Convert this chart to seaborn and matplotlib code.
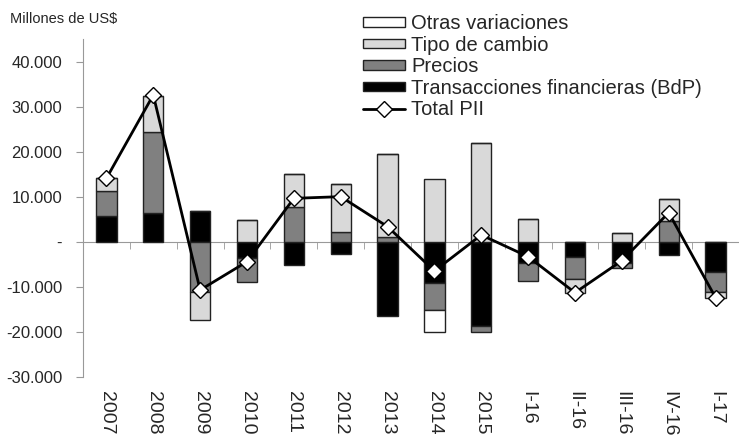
import numpy as np
import pandas as pd
import matplotlib
matplotlib.use('Agg')
import matplotlib.pyplot as plt
import seaborn as sns
from matplotlib.patches import Patch
from matplotlib.lines import Line2D
from matplotlib.ticker import FuncFormatter

periodos = ['2007', '2008', '2009', '2010', '2011', '2012', '2013', '2014', '2015',
            'I-16', 'II-16', 'III-16', 'IV-16', 'I-17']

transacciones = [5840, 6440, 6960, -3630, -5110, -2670, -16440, -9190, -18590,
                 -4740, -3410, -4740, -2960, -6590]
precios = [5560, 18060, -11000, -5260, 7850, 2300, 1000, -5920, -1480,
           -3930, -4810, -960, 4740, -4450]
tipo_cambio = [2900, 8000, -6300, 4810, 7190, 10590, 18480, 13930, 21930,
               5190, -3040, 1930, 4890, -1330]
otras = [0, 0, 0, 0, 0, 0, 0, -4960, 0, 0, 0, 0, 0, 0]
total_pii = [14150, 32670, -10670, -4370, 9700, 10080, 3410, -6440, 1560,
             -3260, -11260, -4150, 6520, -12370]

series = [
    ('Transacciones financieras (BdP)', transacciones, '#000000'),
    ('Precios', precios, '#808080'),
    ('Tipo de cambio', tipo_cambio, '#d9d9d9'),
    ('Otras variaciones', otras, '#ffffff'),
]

sns.set_style('white')
plt.rcParams['font.family'] = ['Liberation Sans', 'DejaVu Sans']

fig = plt.figure(figsize=(7.39, 4.36), dpi=100)
ax = fig.add_axes([83 / 739, 59 / 436, 656 / 739, 337.5 / 436])

x = np.arange(len(periodos))
pos_base = np.zeros(len(periodos))
neg_base = np.zeros(len(periodos))
for nombre, vals, color in series:
    v = np.array(vals, dtype=float)
    base = np.where(v >= 0, pos_base, neg_base)
    ax.bar(x, v, bottom=base, width=0.43, color=color, edgecolor='#222222',
           linewidth=1, zorder=2)
    pos_base += np.where(v > 0, v, 0)
    neg_base += np.where(v < 0, v, 0)

df = pd.DataFrame({'x': x, 'total': total_pii})
sns.lineplot(data=df, x='x', y='total', ax=ax, color='black', linewidth=2,
             marker='D', markersize=8, markerfacecolor='white',
             markeredgecolor='black', markeredgewidth=1, zorder=4)

ax.set_xlim(-0.5, len(periodos) - 0.5)
ax.set_ylim(-30000, 45000)
ax.set_yticks(np.arange(-30000, 40001, 10000))
ax.yaxis.set_major_formatter(FuncFormatter(
    lambda v, p: '-' if v == 0 else f'{v:,.0f}'.replace(',', '.')))
ax.tick_params(axis='y', labelsize=12, length=5, color='#999999', direction='out',
               left=True, pad=10)

ax.spines['top'].set_visible(False)
ax.spines['right'].set_visible(False)
ax.spines['left'].set_color('#999999')
ax.spines['bottom'].set_color('#999999')
ax.spines['bottom'].set_position(('data', 0))
ax.spines['bottom'].set_zorder(1)

ax.set_xticks(x)
ax.set_xticklabels(periodos, rotation=270, fontsize=14, ha='center', va='top')
ax.set_xticks(x[:-1] + 0.5, minor=True)
ax.tick_params(axis='x', which='major', length=0, pad=107, bottom=True)
ax.tick_params(axis='x', which='minor', length=5, color='#999999', direction='out',
               bottom=True)
ax.set_xlabel('')
ax.set_ylabel('')

fig.text(10 / 739, 1 - 19 / 436, 'Millones de US$', fontsize=10.5, va='center', ha='left')

handles = [
    Patch(facecolor='#ffffff', edgecolor='#222222', label='Otras variaciones'),
    Patch(facecolor='#d9d9d9', edgecolor='#222222', label='Tipo de cambio'),
    Patch(facecolor='#808080', edgecolor='#222222', label='Precios'),
    Patch(facecolor='#000000', edgecolor='#222222', label='Transacciones financieras (BdP)'),
    Line2D([0], [0], color='black', linewidth=2, marker='D', markersize=8,
           markerfacecolor='white', markeredgecolor='black', label='Total PII'),
]
fig.legend(handles=handles, loc='upper left', bbox_to_anchor=(363 / 739, 1 - 14 / 436),
           frameon=False, fontsize=14.5, handlelength=2.1, handleheight=0.35,
           handletextpad=0.3, labelspacing=0.13, borderaxespad=0, borderpad=0)

fig.savefig('out.png', dpi=100)
